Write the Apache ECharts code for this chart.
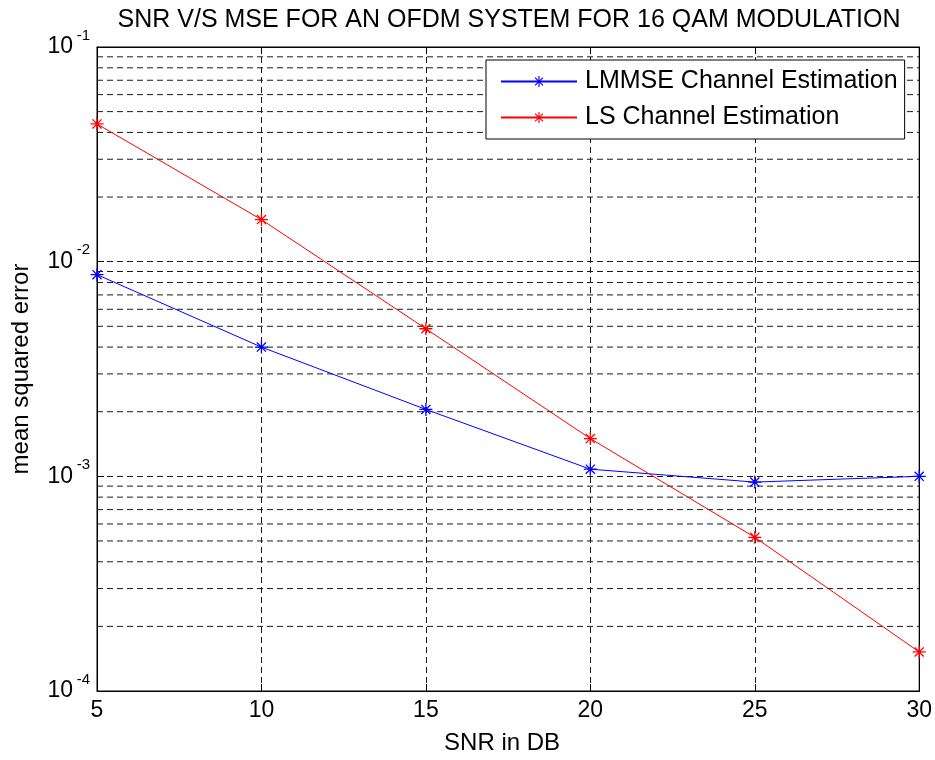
<!DOCTYPE html>
<html>
<head>
<meta charset="utf-8">
<script src="https://cdn.jsdelivr.net/npm/echarts@6/dist/echarts.min.js"></script>
<style>html,body{margin:0;padding:0;background:#fff;}#c{width:935px;height:760px;}</style>
</head>
<body>
<div id="c"></div>
<script>
var snr = [5, 10, 15, 20, 25, 30];
var lmmseMSE = [0.0087, 0.0040, 0.00205, 0.00108, 0.00094, 0.00100];
var lsMSE = [0.0438, 0.0157, 0.00487, 0.00150, 0.00052, 0.000152];
var xTicks = [5, 10, 15, 20, 25, 30];
var yDecades = [1e-4, 1e-3, 1e-2, 1e-1];
var minorGridValues = [2e-4,3e-4,4e-4,5e-4,6e-4,7e-4,8e-4,9e-4,
                       2e-3,3e-3,4e-3,5e-3,6e-3,7e-3,8e-3,9e-3,
                       2e-2,3e-2,4e-2,5e-2,6e-2,7e-2,8e-2,9e-2];
var titleText = 'SNR V/S MSE FOR AN OFDM SYSTEM FOR 16 QAM MODULATION';
var seriesNames = ['LMMSE Channel Estimation', 'LS Channel Estimation'];
var xName = 'SNR in DB';
var yName = 'mean squared error';

var FONT = "'Liberation Sans', Arial, sans-serif";
var asterisk = 'path://M0 9L20 9L20 11L0 11Z M9 0L11 0L11 20L9 20Z M2.3 3.7L3.7 2.3L17.7 16.3L16.3 17.7Z M16.3 2.3L17.7 3.7L3.7 17.7L2.3 16.3Z';
var dash = {color: '#1a1a1a', width: 1, type: [6, 4]};

function pairs(xs, ys) { return xs.map(function (x, i) { return [x, ys[i]]; }); }

var xMin = xTicks[0], xMax = xTicks[xTicks.length - 1];
var yMin = yDecades[0], yMax = yDecades[yDecades.length - 1];

// minor grid lines: horizontal segments across the plot, separated by gaps
var minorGridData = [];
minorGridValues.forEach(function (v) {
  minorGridData.push([xMin, v]);
  minorGridData.push([xMax, v]);
  minorGridData.push([xMax, '-']);
});

function logAxisBase(extra) {
  var o = {type: 'log', logBase: 10, min: yMin, max: yMax, interval: 1};
  for (var k in extra) o[k] = extra[k];
  return o;
}

var chart = echarts.init(document.getElementById('c'), null, {renderer: 'canvas'});
chart.setOption({
  animation: false,
  backgroundColor: '#fff',
  textStyle: {fontFamily: FONT, color: '#000'},
  title: {
    text: titleText, left: 504, textAlign: 'center', top: 3,
    textStyle: {fontFamily: FONT, fontSize: 25, fontWeight: 'normal', color: '#000'}
  },
  grid: {left: 97, right: 14, top: 47, bottom: 67, show: true, borderColor: '#000', borderWidth: 1, backgroundColor: '#fff'},
  legend: {
    orient: 'vertical', left: 486, top: 60,
    backgroundColor: '#fff', borderColor: '#000', borderWidth: 1,
    padding: [9, 7, 9, 14], itemGap: 11, itemWidth: 76, itemHeight: 14,
    data: seriesNames,
    textStyle: {fontFamily: FONT, fontSize: 25, color: '#000', padding: [0, 0, 0, 3]}
  },
  xAxis: [{
    type: 'value', min: xMin, max: xMax, interval: 5,
    name: xName, nameLocation: 'middle', nameGap: 40,
    nameTextStyle: {fontFamily: FONT, fontSize: 24, color: '#000', padding: [0, 12, 0, 0]},
    axisLine: {show: true, lineStyle: {color: '#000'}},
    axisTick: {show: true, inside: true, length: 7, lineStyle: {color: '#000'}},
    axisLabel: {fontFamily: FONT, fontSize: 23, color: '#000', margin: 8},
    splitLine: {show: true, lineStyle: dash}
  }, {
    type: 'value', position: 'top', min: xMin, max: xMax, interval: 5,
    axisLine: {show: true, lineStyle: {color: '#000'}},
    axisTick: {show: true, inside: true, length: 7, lineStyle: {color: '#000'}},
    axisLabel: {show: false}, splitLine: {show: false}
  }],
  yAxis: [
    logAxisBase({
      position: 'left',
      name: yName, nameLocation: 'middle', nameGap: 64,
      nameTextStyle: {fontFamily: FONT, fontSize: 24, color: '#000'},
      axisLine: {show: true, lineStyle: {color: '#000'}},
      axisTick: {show: true, inside: true, length: 7, lineStyle: {color: '#000'}},
      axisLabel: {fontFamily: FONT, fontSize: 23, color: '#000', margin: 24,
        formatter: function () { return '10'; }},
      splitLine: {show: true, lineStyle: dash}
    }),
    logAxisBase({
      position: 'right',
      axisLine: {show: true, lineStyle: {color: '#000'}},
      axisTick: {show: true, inside: true, length: 7, lineStyle: {color: '#000'}},
      axisLabel: {show: false}, splitLine: {show: false}
    }),
    logAxisBase({
      position: 'left',
      axisLine: {show: false}, axisTick: {show: false}, splitLine: {show: false},
      axisLabel: {fontFamily: FONT, fontSize: 15, color: '#000', margin: 7,
        verticalAlign: 'bottom', lineHeight: 23,
        formatter: function (v) { return String(Math.round(Math.log10(v))); }}
    })
  ],
  series: [{
    name: '_minorgrid', type: 'line', data: minorGridData, z: 1, silent: true,
    symbol: 'none', connectNulls: false,
    lineStyle: dash, itemStyle: {color: '#1a1a1a'}
  }, {
    name: seriesNames[0], type: 'line', data: pairs(snr, lmmseMSE), z: 3,
    symbol: asterisk, symbolSize: 13, showAllSymbol: true,
    lineStyle: {color: '#0000ff', width: 1}, itemStyle: {color: '#0000ff'}
  }, {
    name: seriesNames[1], type: 'line', data: pairs(snr, lsMSE), z: 3,
    symbol: asterisk, symbolSize: 13, showAllSymbol: true,
    lineStyle: {color: '#ff0000', width: 1}, itemStyle: {color: '#ff0000'}
  }]
});
</script>
</body>
</html>
